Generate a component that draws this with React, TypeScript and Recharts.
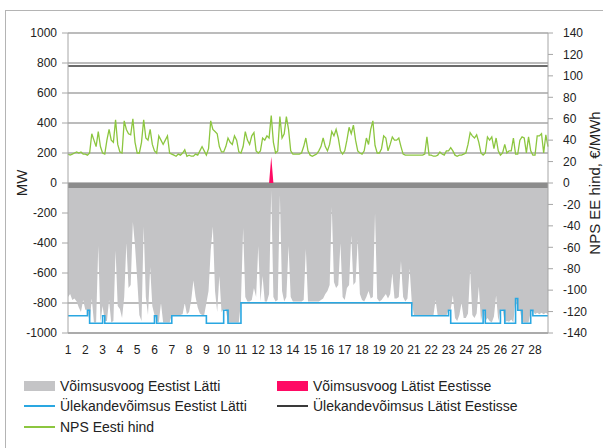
import React from "react";
import {
  ComposedChart,
  Area,
  Line,
  XAxis,
  YAxis,
  CartesianGrid,
  ReferenceLine,
} from "recharts";

// x-axis day labels
const days = Array.from({ length: 28 }, (_, i) => i + 1);
const mwTicks = [-1000, -800, -600, -400, -200, 0, 200, 400, 600, 800, 1000];
const eurTicks = [-140, -120, -100, -80, -60, -40, -20, 0, 20, 40, 60, 80, 100, 120, 140];

// Võimsusvoog Eestist Lätti, MW (negative), one value per 3 hours, one row per day
const flowEeLv = [
  -760, -740, -780, -770, -790, -830, -860, -780,
  -845, -845, -930, -770, -930, -930, -420, -930,
  -820, -920, -920, -780, -930, -920, -450, -820,
  -840, -900, -760, -400, -700, -680, -260, -420,
  -640, -880, -920, -290, -760, -880, -560, -820,
  -880, -920, -930, -800, -930, -930, -930, -930,
  -880, -880, -880, -880, -880, -875, -800, -875,
  -860, -780, -650, -760, -830, -870, -880, -880,
  -800, -720, -450, -290, -720, -860, -620, -860,
  -840, -845, -930, -930, -930, -930, -930, -930,
  -790, -300, -760, -790, -790, -780, -700, -760,
  -420, -790, -620, -790, -790, -740, -50, -760,
  -790, -780, -80, -720, -790, -760, -420, -760,
  -790, -790, -790, -790, -790, -780, -440, -790,
  -790, -790, -790, -790, -790, -780, -770, -740,
  -720, -680, -160, -660, -700, -680, -400, -760,
  -780, -700, -680, -350, -680, -660, -380, -740,
  -780, -790, -760, -720, -770, -760, -200, -770,
  -790, -780, -760, -740, -770, -740, -600, -770,
  -770, -760, -520, -760, -790, -770, -570, -795,
  -880, -885, -885, -885, -885, -885, -885, -885,
  -885, -885, -780, -885, -885, -885, -885, -885,
  -845, -845, -750, -900, -920, -880, -800, -900,
  -900, -870, -580, -880, -900, -870, -690, -920,
  -845, -920, -900, -920, -930, -890, -750, -920,
  -845, -845, -930, -920, -925, -910, -930, -770,
  -845, -845, -925, -930, -930, -930, -860, -850,
  -875, -865, -875, -865, -875, -865, -875,
];

// NPS Eesti hind, €/MWh, same 3-hour steps
const priceEe = [
  27, 26, 27, 28, 29, 28, 29, 27,
  27, 26, 28, 46, 40, 34, 48, 34,
  28, 27, 40, 50, 40, 38, 59, 36,
  29, 28, 58, 50, 46, 45, 60, 38,
  28, 28, 38, 59, 42, 40, 50, 36,
  30, 28, 44, 40, 36, 40, 44, 28,
  27, 26, 25, 27, 26, 28, 31, 25,
  26, 25, 25, 27, 26, 30, 34, 30,
  26, 32, 58, 50, 48, 46, 34, 29,
  29, 34, 42, 38, 36, 44, 40, 29,
  28, 34, 48, 40, 36, 44, 47, 30,
  28, 30, 42, 40, 44, 42, 63, 38,
  28, 30, 62, 42, 46, 62, 50, 30,
  27, 27, 27, 27, 28, 34, 42, 30,
  26, 25, 26, 27, 30, 34, 42, 34,
  30, 36, 48, 44, 50, 42, 30, 27,
  30, 40, 52, 46, 54, 40, 30, 28,
  27, 30, 42, 36, 50, 58, 35, 28,
  28, 32, 44, 42, 30, 36, 43, 40,
  40, 42, 34, 27, 26, 26, 26, 26,
  26, 26, 26, 26, 26, 27, 43, 26,
  26, 25, 25, 26, 29, 27, 26, 30,
  30, 33, 30, 26, 25, 26, 26, 27,
  28, 36, 47, 44, 42, 45, 38, 28,
  26, 28, 43, 40, 43, 32, 42, 30,
  26, 28, 36, 28, 30, 30, 42, 27,
  27, 40, 43, 42, 28, 43, 30, 26,
  26, 44, 44, 46, 28, 45, 34,
];

// Ülekandevõimsus Eestist Lätti: [start day, MW]
const capEeLvSteps: [number, number][] = [
  [1, -885], [2.125, -848], [2.25, -935], [3, -885], [3.125, -935],
  [6, -885], [6.125, -935], [7, -885], [9, -935], [10, -848],
  [10.25, -935], [11, -798], [20.875, -885], [23, -848], [23.125, -935],
  [25, -848], [25.125, -935], [26, -848], [26.25, -935], [26.875, -770],
  [27, -848], [27.25, -935], [27.75, -848], [27.875, -885],
];

// Ülekandevõimsus Lätist Eestisse, MW
const capLvEe = 780;

// Võimsusvoog Lätist Eestisse: [day, MW], zero otherwise
const flowLvEeEvents: [number, number][] = [[12.75, 175]];

const data = flowEeLv.map((flow, i) => {
  const day = 1 + (i * 3) / 24;
  let cap = capEeLvSteps[0][1];
  for (const [start, v] of capEeLvSteps) if (start <= day + 1e-6) cap = v;
  const ev = flowLvEeEvents.find(([d]) => Math.abs(d - day) < 1e-6);
  return {
    day,
    flowEeLv: flow,
    flowLvEe: ev ? ev[1] : 0,
    capEeLv: cap,
    capLvEe,
    priceEe: priceEe[i],
  };
});

const tickStyle = { fill: "#222", fontSize: 12 };

const legendItems = [
  { label: "Võimsusvoog Eestist Lätti", color: "#c4c4c6", box: true, x: 24, y: 386 },
  { label: "Võimsusvoog Lätist Eestisse", color: "#ff0a64", box: true, x: 277, y: 386 },
  { label: "Ülekandevõimsus Eestist Lätti", color: "#2aa7e1", box: false, x: 24, y: 406 },
  { label: "Ülekandevõimsus Lätist Eestisse", color: "#3a3a3a", box: false, x: 277, y: 406 },
  { label: "NPS Eesti hind", color: "#8cc63f", box: false, x: 24, y: 427 },
];

export default function App() {
  return (
    <div
      style={{
        position: "relative",
        width: 603,
        height: 448,
        overflow: "hidden",
        background: "#fff",
        fontFamily: "'Liberation Sans', Arial, sans-serif",
        color: "#222",
      }}
    >
      <style>{"body{margin:0}"}</style>
      <div
        style={{
          position: "absolute",
          left: 5,
          top: 10,
          width: 700,
          height: 600,
          border: "1px solid #b4b4b4",
        }}
      />
      <div style={{ position: "absolute", left: 0, top: 0 }}>
        <ComposedChart
          width={603}
          height={370}
          data={data}
          margin={{ top: 33, right: 8, bottom: 7, left: 8 }}
        >
          <CartesianGrid yAxisId="mw" vertical={false} stroke="#a6a6a6" strokeWidth={1.3} />
          <XAxis
            dataKey="day"
            type="number"
            domain={[1, 28.75]}
            ticks={days}
            interval={0}
            tickLine={false}
            tickSize={0}
            tickMargin={12}
            height={30}
            axisLine={{ stroke: "#a6a6a6", strokeWidth: 1.3 }}
            tick={tickStyle}
          />
          <YAxis
            yAxisId="mw"
            orientation="left"
            width={60}
            domain={[-1000, 1000]}
            ticks={mwTicks}
            interval={0}
            tickSize={6}
            tickMargin={5}
            stroke="#a6a6a6"
            tick={tickStyle}
          />
          <YAxis
            yAxisId="eur"
            orientation="right"
            width={47}
            domain={[-140, 140]}
            ticks={eurTicks}
            interval={0}
            tickSize={5}
            tickMargin={10}
            stroke="#a6a6a6"
            tick={{ ...tickStyle, textAnchor: "start" }}
          />
          <Area
            yAxisId="mw"
            dataKey="flowEeLv"
            type="linear"
            stroke="none"
            fill="#c4c4c6"
            fillOpacity={1}
            baseValue={0}
            isAnimationActive={false}
          />
          <Area
            yAxisId="mw"
            dataKey="flowLvEe"
            type="linear"
            stroke="none"
            fill="#ff0a64"
            fillOpacity={1}
            baseValue={0}
            isAnimationActive={false}
          />
          <ReferenceLine yAxisId="mw" y={-17} stroke="#8c8c8c" strokeWidth={5} />
          <Line
            yAxisId="mw"
            dataKey="capEeLv"
            type="stepAfter"
            stroke="#2aa7e1"
            strokeWidth={1.6}
            dot={false}
            isAnimationActive={false}
          />
          <Line
            yAxisId="mw"
            dataKey="capLvEe"
            type="linear"
            stroke="#3a3a3a"
            strokeWidth={1.5}
            dot={false}
            isAnimationActive={false}
          />
          <Line
            yAxisId="eur"
            dataKey="priceEe"
            type="linear"
            stroke="#8cc63f"
            strokeWidth={1.3}
            dot={false}
            isAnimationActive={false}
          />
        </ComposedChart>
      </div>

      <div
        style={{
          position: "absolute",
          left: 21,
          top: 183,
          transform: "translate(-50%, -50%) rotate(-90deg)",
          fontSize: 15,
          whiteSpace: "nowrap",
        }}
      >
        MW
      </div>
      <div
        style={{
          position: "absolute",
          left: 594,
          top: 183,
          transform: "translate(-50%, -50%) rotate(-90deg)",
          fontSize: 15,
          whiteSpace: "nowrap",
        }}
      >
        NPS EE hind, €/MWh
      </div>

      {legendItems.map((item) => (
        <div
          key={item.label}
          style={{
            position: "absolute",
            left: item.x,
            top: item.y - 10,
            height: 20,
            display: "flex",
            alignItems: "center",
            fontSize: 14,
            whiteSpace: "nowrap",
          }}
        >
          <span
            style={{
              display: "inline-block",
              width: 31,
              height: item.box ? 10 : 1.5,
              background: item.color,
              marginRight: 5,
            }}
          />
          {item.label}
        </div>
      ))}
    </div>
  );
}
